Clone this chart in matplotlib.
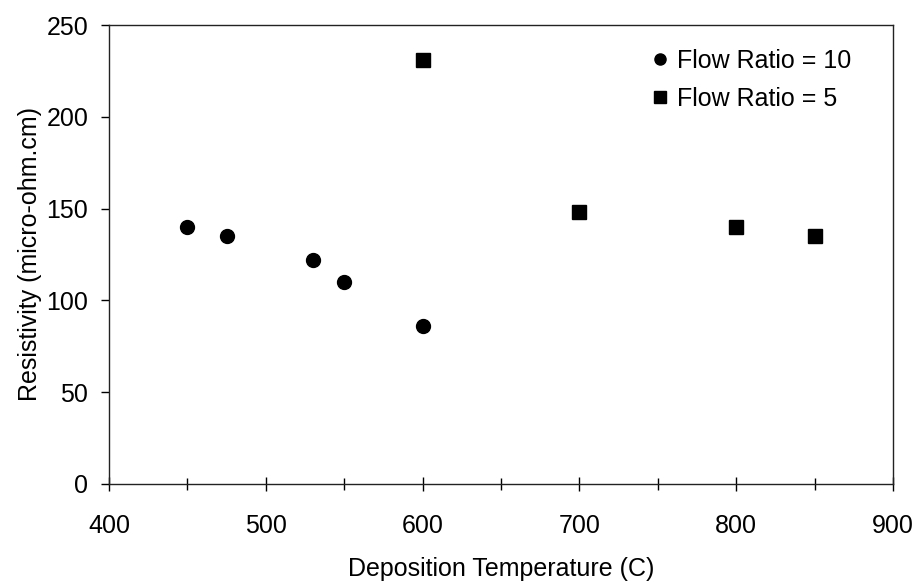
import matplotlib
matplotlib.use('Agg')
import matplotlib.pyplot as plt
from matplotlib.ticker import MultipleLocator

plt.rcParams['font.family'] = ['Liberation Sans', 'DejaVu Sans']

# Flow ratio = 10
temp_10 = [450, 475, 530, 550, 600]
res_10 = [140, 135, 122, 110, 86]

# Flow ratio = 5
temp_5 = [600, 700, 800, 850]
res_5 = [231, 148, 140, 135]

fig = plt.figure(figsize=(9.16, 5.83), dpi=100)
ax = fig.add_axes([0.119, 0.170, 0.856, 0.787])

ax.plot(temp_10, res_10, 'o', color='black', markersize=10, label='Flow Ratio = 10')
ax.plot(temp_5, res_5, 's', color='black', markersize=10.5, label='Flow Ratio = 5')

ax.set_xlim(400, 900)
ax.set_ylim(0, 250)
ax.xaxis.set_major_locator(MultipleLocator(100))
ax.xaxis.set_minor_locator(MultipleLocator(50))
ax.yaxis.set_major_locator(MultipleLocator(50))

ax.tick_params(axis='x', which='major', direction='inout', length=10, width=1, labelsize=18, pad=17)
ax.tick_params(axis='x', which='minor', direction='inout', length=8, width=1)
ax.tick_params(axis='y', which='major', direction='out', length=6, width=1, labelsize=18, pad=9)

for s in ax.spines.values():
    s.set_linewidth(1)
    s.set_color('#222222')

ax.set_xlabel('Deposition Temperature (C)', fontsize=18, labelpad=13)
ax.set_ylabel('Resistivity (micro-ohm.cm)', fontsize=18, labelpad=3)

leg = ax.legend(loc='upper right', frameon=False, fontsize=18, markerscale=0.8,
                handlelength=0.5, handletextpad=0.45, labelspacing=0.55,
                borderaxespad=0, bbox_to_anchor=(0.96, 0.97))

fig.savefig('out.png', dpi=100)
